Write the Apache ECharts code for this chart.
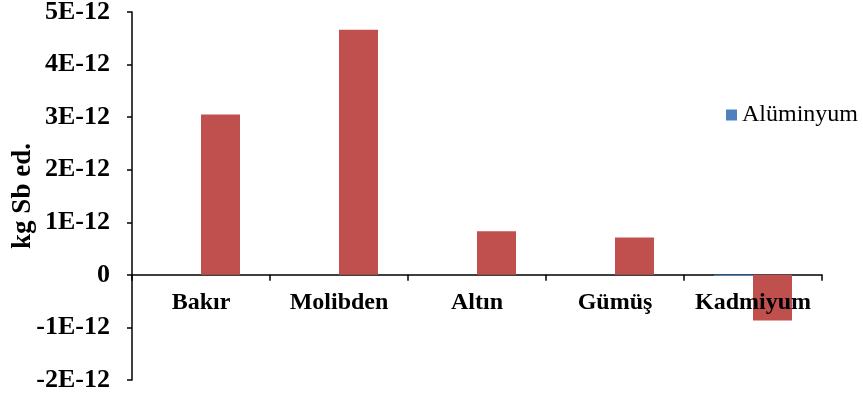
<!DOCTYPE html>
<html>
<head>
<meta charset="utf-8">
<script src="https://cdn.jsdelivr.net/npm/echarts@6/dist/echarts.min.js"></script>
<style>
  html, body { margin: 0; padding: 0; background: #fff; }
  #chart { width: 863px; height: 394px; }
</style>
</head>
<body>
<div id="chart"></div>
<script>
// Categories (metals) and series values in kg Sb eq.
const categories = ['Bakır', 'Molibden', 'Altın', 'Gümüş', 'Kadmiyum'];
const aluminyumValues = [0, 0, 0, 0, -2e-14];
const secondValues = [3.05e-12, 4.66e-12, 0.83e-12, 0.71e-12, -0.87e-12];
const yTicks = { min: -2e-12, max: 5e-12, step: 1e-12 };

const serif = '"Liberation Serif", "Times New Roman", serif';

function sciLabel(v) {
  const n = Math.round(v / 1e-12);
  return n === 0 ? '0' : n + 'E-12';
}

// Category names sit just under the zero line, so they are carried by
// an invisible scatter series anchored at value 0 of each category.
const zeroAnchors = categories.map(c => [c, 0]);

const chart = echarts.init(document.getElementById('chart'), null, { renderer: 'canvas' });
chart.setOption({
  animation: false,
  backgroundColor: '#ffffff',
  grid: { left: 132, right: 41, top: 12, bottom: 14, containLabel: false, outerBoundsMode: 'none' },
  legend: {
    data: ['Alüminyum'],
    left: 726, top: 103, padding: 0,
    itemWidth: 11, itemHeight: 11, itemGap: 6,
    icon: 'rect',
    textStyle: { fontFamily: serif, fontSize: 24, color: '#000' }
  },
  xAxis: {
    type: 'category',
    data: categories,
    axisLine: { onZero: true, lineStyle: { color: '#000', width: 1.5 } },
    axisTick: { show: true, length: 6, inside: false, lineStyle: { color: '#000', width: 1.5 } },
    axisLabel: { show: false },
    z: 1
  },
  yAxis: {
    type: 'value',
    min: yTicks.min, max: yTicks.max, interval: yTicks.step,
    name: 'kg Sb ed.',
    nameLocation: 'middle',
    nameGap: 95,
    nameMoveOverlap: false,
    nameTextStyle: { fontFamily: serif, fontSize: 27, fontWeight: 'bold', color: '#000' },
    axisLine: { show: true, lineStyle: { color: '#000', width: 1.5 } },
    axisTick: { show: true, length: 5, lineStyle: { color: '#000', width: 1.5 } },
    axisLabel: { margin: 22, fontFamily: serif, fontSize: 26, fontWeight: 'bold', color: '#000', formatter: sciLabel },
    splitLine: { show: false }
  },
  series: [
    { name: 'Alüminyum', type: 'bar', data: aluminyumValues, barWidth: 39, barGap: '0%',
      itemStyle: { color: '#4F81BD' } },
    { name: 'Seri 2', type: 'bar', data: secondValues, barWidth: 39, barGap: '0%',
      itemStyle: { color: '#C0504D' }, z: 3 },
    { type: 'scatter', data: zeroAnchors, symbolSize: 0, silent: true, z: 5,
      itemStyle: { opacity: 1 },
      label: { show: true, position: 'bottom', distance: 16,
        formatter: p => p.data[0], textBorderWidth: 0,
        fontFamily: serif, fontSize: 24, fontWeight: 'bold', color: '#000' } }
  ]
});
</script>
</body>
</html>
